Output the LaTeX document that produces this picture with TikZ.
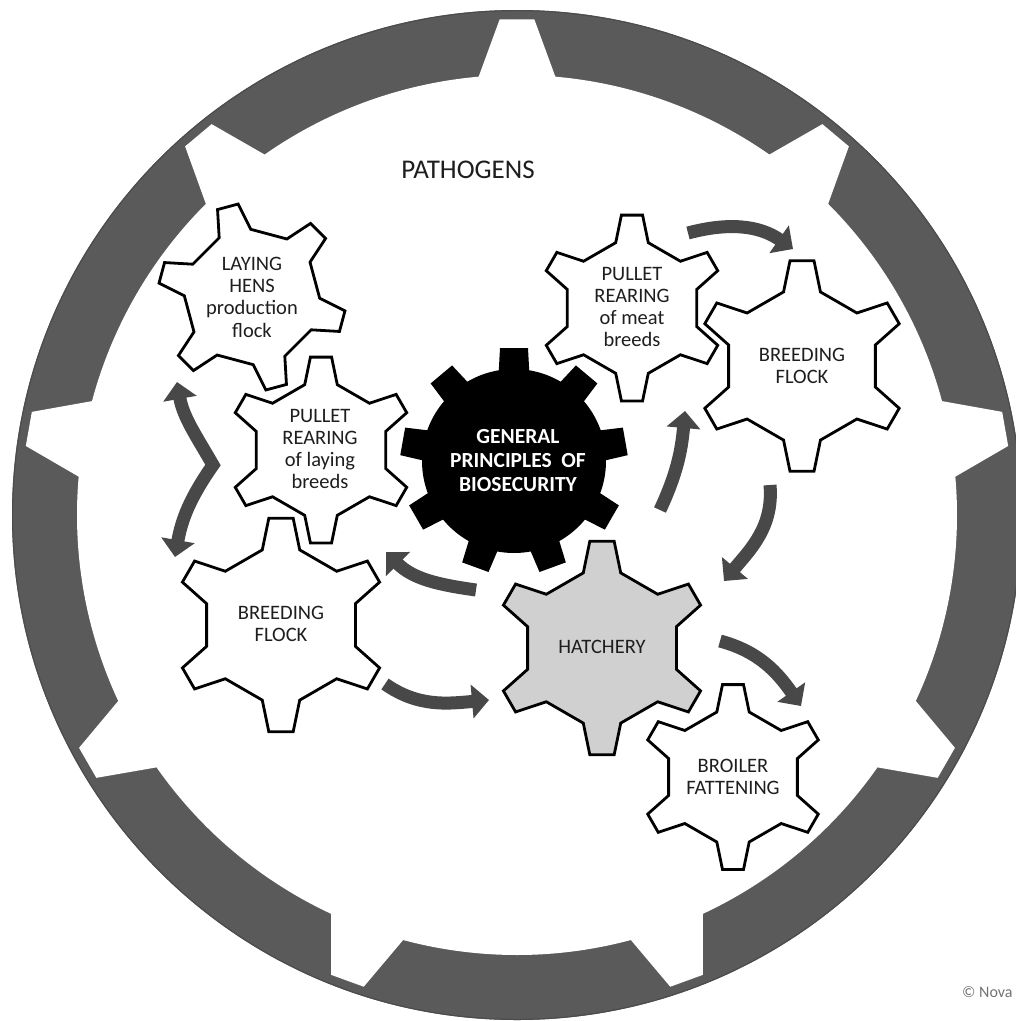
\documentclass[tikz,border=0pt]{standalone}
\usepackage{fontspec}
\setmainfont{Carlito}
\usetikzlibrary{arrows.meta}
\definecolor{ringgray}{RGB}{90,90,90}
\definecolor{arrowgray}{RGB}{72,72,72}
\definecolor{hatchgray}{RGB}{208,208,208}
\definecolor{txtgray}{RGB}{30,30,30}
\newcommand{\mygear}[5]{%
  \draw[gearline,fill=#5,shift={(#1,#2)}]
    ({#4-14}:{0.72*#3})
    \foreach \k in {0,...,5}{
      -- ({#4+60*\k-14}:{0.72*#3})
      -- ({#4+60*\k-6.5}:{#3})
      -- ({#4+60*\k+6.5}:{#3})
      -- ({#4+60*\k+14}:{0.72*#3})
    } -- cycle;}
\begin{document}
\begin{tikzpicture}[x=1pt,y=1pt,
  gearline/.style={draw=black, line width=2.8pt, line join=miter},
  gtext/.style={align=center, text=txtgray, font=\fontsize{20.5}{22.3}\selectfont, inner sep=0pt},
  ctext/.style={align=center, text=white, font=\bfseries\fontsize{21.5}{24}\selectfont, inner sep=0pt},
  flow/.style={draw=arrowgray, line width=13pt, -{Triangle[width=33pt,length=17pt]}},
  dflow/.style={draw=arrowgray, line width=13pt, line join=miter, {Triangle[width=33pt,length=17pt]}-{Triangle[width=33pt,length=17pt]}}
  ]
\useasboundingbox (0,0) rectangle (1016,-1021);
\fill[white] (0,0) rectangle (1016,-1021);

% outer ring gear
\coordinate (rc) at (517,-515);
\fill[ringgray] (rc) circle (505);
\draw[black!70, line width=1.2pt] (rc) circle (504.4);
\fill[white, shift={(517,-515)}] (85:440)
  \foreach \a in {90,130,...,410}{ -- ({\a-5}:440) -- ({\a-2}:496) -- ({\a+2}:496) -- ({\a+5}:440)
     arc[start angle={\a+5}, end angle={\a+35}, radius=440] } -- cycle;

\node[text=txtgray, font=\fontsize{27}{30}\selectfont, inner sep=0pt] (path) at (468,-170) {PATHOGENS};

% gears
\mygear{252}{-297}{94}{105}{white}
\node[gtext] (nA) at (252,-297) {LAYING\\HENS\\production\\flock};

\mygear{321}{-450}{93.5}{90}{white}
\node[gtext] (nB) at (320,-449) {PULLET\\REARING\\of laying\\breeds};

\mygear{281}{-625}{107.5}{90}{white}
\node[gtext] (nC) at (281,-624) {BREEDING\\FLOCK};

% central black gear
\begin{scope}[shift={(514,-461)}]
  \fill[black] (0,0) circle (92);
  \foreach \a in {90,130,...,410}{\fill[black,rotate=\a] (85,-15.5) -- (113,-14) -- (113,14) -- (85,15.5) -- cycle;}
\end{scope}
\node[ctext] (nD) at (518,-461) {GENERAL\\PRINCIPLES\ \ OF\\BIOSECURITY};

\mygear{632}{-308}{93.5}{90}{white}
\node[gtext] (nE) at (632,-307) {PULLET\\REARING\\of meat\\breeds};

\mygear{802}{-366}{106}{90}{white}
\node[gtext] (nF) at (802,-366) {BREEDING\\FLOCK};

\mygear{602}{-648}{107.5}{90}{hatchgray}
\node[gtext] (nG) at (602,-647) {HATCHERY};

\mygear{733}{-777}{93}{90}{white}
\node[gtext] (nH) at (733,-777) {BROILER\\FATTENING};

% arrow end points
\coordinate (a1s) at (688,-233);
\coordinate (a1e) at (793,-249);
\coordinate (a2s) at (770,-485);
\coordinate (a2e) at (724,-581);
\coordinate (a3s) at (660,-510);
\coordinate (a3e) at (685,-411);
\coordinate (a4s) at (476,-590);
\coordinate (a4e) at (386,-552);
\coordinate (a5s) at (385,-684);
\coordinate (a5e) at (489,-700);
\coordinate (a6s) at (720,-641);
\coordinate (a6e) at (801,-706);
\coordinate (tA) at (177,-382);
\coordinate (knee) at (213,-465);
\coordinate (tC) at (175,-557);

\draw[flow] (a1s) to[out=15,in=145] (a1e);
\draw[flow] (a2s) to[out=-85,in=50] (a2e);
\draw[flow] (a3s) to[out=65,in=-95] (a3e);
\draw[flow] (a4s) to[out=172,in=-45] (a4e);
\draw[flow] (a5s) to[out=-35,in=185] (a5e);
\draw[flow] (a6s) to[out=-15,in=125] (a6e);
\draw[dflow] (tA) to[out=-80,in=120] (knee) to[out=235,in=80] (tC);

\node[anchor=base west, text=black!55, font=\fontsize{16}{16}\selectfont, inner sep=0pt] (copy) at (962,-997) {© Nova};
\end{tikzpicture}
\end{document}
